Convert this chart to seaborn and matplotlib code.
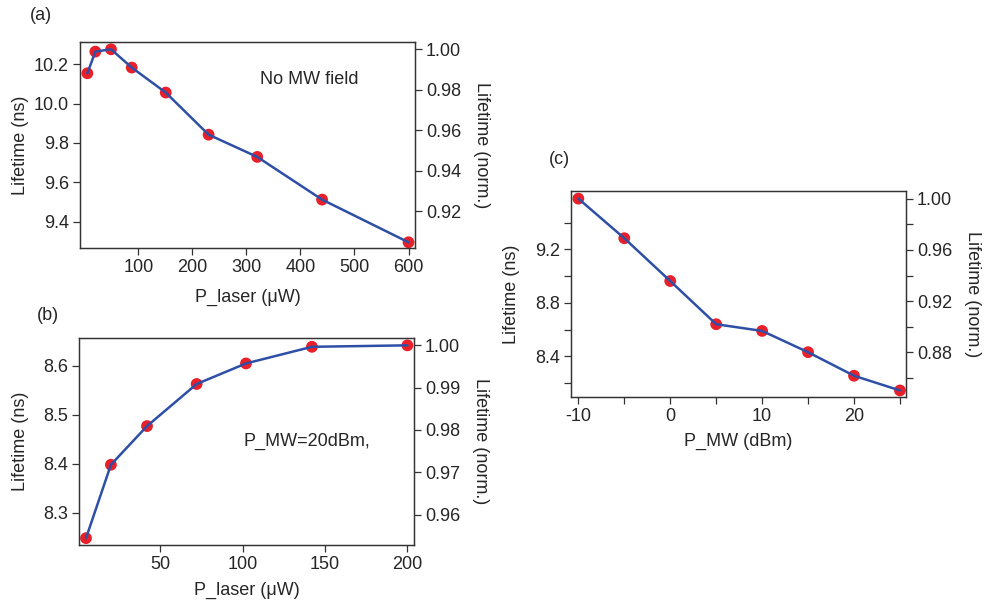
import matplotlib
matplotlib.use("Agg")
import matplotlib.pyplot as plt
import seaborn as sns
import pandas as pd
from matplotlib.ticker import FixedLocator

sns.set_theme(style="ticks")
plt.rcParams["font.family"] = ["Liberation Sans", "DejaVu Sans"]
plt.rcParams["font.size"] = 13
plt.rcParams["axes.unicode_minus"] = False

# (a) lifetime vs laser power, no microwave field
laser_a = [5.6, 20.4, 49.4, 87.8, 150.7, 230, 320, 440, 600]
life_a = [10.154, 10.264, 10.276, 10.183, 10.056, 9.842, 9.729, 9.512, 9.295]

# (b) lifetime vs laser power at P_MW = 20 dBm
laser_b = [5.1, 20.2, 42.1, 72.2, 102.1, 142.1, 200]
life_b = [8.248, 8.398, 8.477, 8.563, 8.605, 8.639, 8.642]

# (c) lifetime vs microwave power
mw_c = [-10, -5, 0, 5, 10, 15, 20, 25]
life_c = [9.580, 9.284, 8.964, 8.641, 8.591, 8.432, 8.256, 8.146]

LINE = "#2e4fa6"
DOT = "#e8202a"
TXT = "#262626"
FS = 13

W, H = 985, 605
fig = plt.figure(figsize=(W / 100, H / 100), dpi=100)


def box(left, top, right, bottom):
    return [left / W, 1 - bottom / H, (right - left) / W, (bottom - top) / H]


def panel(rect, x, y, xlim, ylim, xticks, yticks, rticks, xlabel, xlab_off,
          xminor=None, yminor=None, rminor=None):
    ax = fig.add_axes(rect)
    df = pd.DataFrame({"x": x, "y": y})
    sns.scatterplot(data=df, x="x", y="y", ax=ax, color=DOT, s=72,
                    edgecolor="none", zorder=2)
    sns.lineplot(data=df, x="x", y="y", ax=ax, color=LINE, lw=1.8,
                 zorder=3, sort=False)
    ax.set_xlim(*xlim)
    ax.set_ylim(*ylim)
    ax.set_xticks(xticks)
    ax.set_yticks(yticks)
    if xminor is not None:
        ax.xaxis.set_minor_locator(FixedLocator(xminor))
    if yminor is not None:
        ax.yaxis.set_minor_locator(FixedLocator(yminor))
    norm = max(y)
    rax = ax.twinx()
    rax.set_ylim(ylim[0] / norm, ylim[1] / norm)
    rax.set_yticks(rticks)
    rax.set_yticklabels([f"{t:.2f}" for t in rticks])
    if rminor is not None:
        rax.yaxis.set_minor_locator(FixedLocator(rminor))
    for a in (ax, rax):
        for s in a.spines.values():
            s.set_visible(True)
            s.set_color("#333333")
            s.set_linewidth(0.9)
        a.tick_params(which="both", direction="out", length=5, width=0.9,
                      color="#333333", labelsize=FS, labelcolor=TXT, pad=3)
    ax.set_xlabel(xlabel, fontsize=FS, color=TXT)
    ax.set_ylabel("Lifetime (ns)", fontsize=FS, color=TXT)
    rax.set_ylabel("Lifetime (norm.)", fontsize=FS, color=TXT, rotation=-90)
    # axis titles sit at fixed pixel distances from the frame
    ax.xaxis.set_label_coords(0.5, -xlab_off / (rect[3] * H))
    ax.xaxis.label.set_va("center")
    ax.yaxis.set_label_coords(-59 / (rect[2] * W), 0.5)
    ax.yaxis.label.set_va("center")
    ax.yaxis.label.set_ha("center")
    rax.yaxis.set_label_coords(1 + 66 / (rect[2] * W), 0.5)
    rax.yaxis.label.set_va("center")
    rax.yaxis.label.set_ha("center")
    return ax


ax_a = panel(box(80, 42, 415, 248), laser_a, life_a, (-8, 612), (9.266, 10.313),
             [100, 200, 300, 400, 500, 600], [9.4, 9.6, 9.8, 10.0, 10.2],
             [0.92, 0.94, 0.96, 0.98, 1.00], "P_laser (μW)", 49)
ax_a.set_yticklabels(["9.4", "9.6", "9.8", "10.0", "10.2"])
ax_a.text(0.537, 0.82, "No MW field", transform=ax_a.transAxes, fontsize=FS,
          color=TXT, ha="left", va="center")

ax_b = panel(box(79, 338, 414, 545), laser_b, life_b, (0.85, 204), (8.234, 8.657),
             [50, 100, 150, 200], [8.3, 8.4, 8.5, 8.6],
             [0.96, 0.97, 0.98, 0.99, 1.00], "P_laser (μW)", 45)
ax_b.text(0.49, 0.50, "P_MW=20dBm,", transform=ax_b.transAxes, fontsize=FS,
          color=TXT, ha="left", va="center")

ax_c = panel(box(571, 191, 906, 397), mw_c, life_c, (-10.8, 25.66), (8.097, 9.637),
             [-10, 0, 10, 20], [8.4, 8.8, 9.2],
             [0.88, 0.92, 0.96, 1.00], "P_MW (dBm)", 44,
             xminor=[-5, 5, 15, 25], yminor=[8.2, 8.6, 9.0, 9.4],
             rminor=[0.86, 0.90, 0.94, 0.98])

for lab, (px, py) in {"(a)": (41, 15), "(b)": (48, 315), "(c)": (559, 160)}.items():
    fig.text(px / W, 1 - py / H, lab, fontsize=FS, color=TXT,
             ha="center", va="center")

fig.savefig("out.png", dpi=100)
